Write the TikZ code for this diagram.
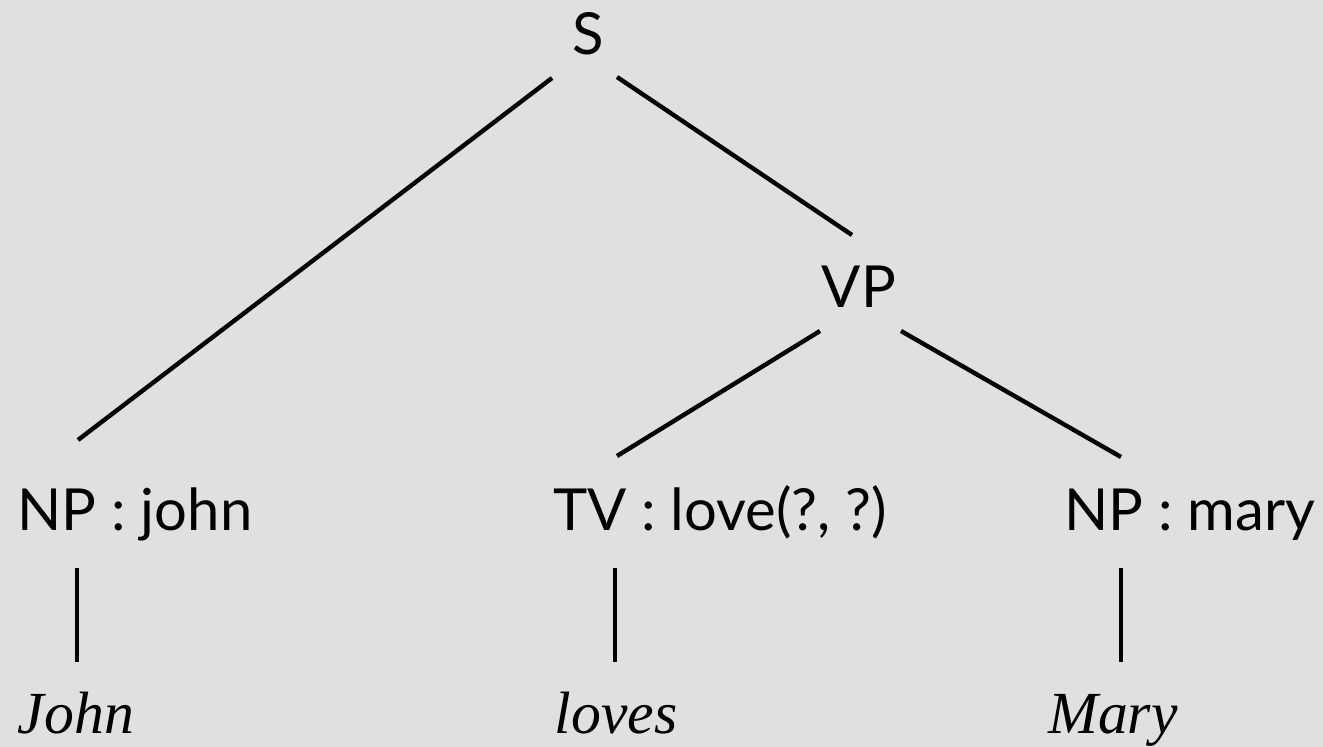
\documentclass[tikz,border=0pt]{standalone}
\usepackage{fontspec}
\setmainfont{Lato}
\newfontfamily\wordfont{Liberation Serif}
\usepackage{tikz}
\definecolor{granite}{RGB}{224,224,224}

\begin{document}
\begin{tikzpicture}[x=0.02cm, y=-0.02cm,
    cat/.style={inner sep=0pt, anchor=base, font=\fontsize{33}{40}\selectfont},
    word/.style={inner sep=0pt, anchor=base, font=\wordfont\itshape\fontsize{34}{40}\selectfont},
    branch/.style={line width=2.5pt}]
    % Background
    \fill[granite] (0,0) rectangle (1323,747);
    \useasboundingbox (0,0) rectangle (1323,747);

    % Categories
    \node[cat] (s) at (588,54) {S};
    \node[cat] (vp) at (859,307) {VP};
    \node[cat] (np1) at (135,530) {NP : john};
    \node[cat] (tv) at (720,530) {TV : love(?, ?)};
    \node[cat] (np2) at (1190,530) {NP : mary};

    % Words
    \node[word] (john) at (76,733) {John};
    \node[word] (loves) at (616,733) {loves};
    \node[word] (mary) at (1113,733) {Mary};

    % Branch ends
    \coordinate (s-l) at (552,78);
    \coordinate (s-r) at (617,77);
    \coordinate (vp-up) at (852,235);
    \coordinate (vp-l) at (820,331);
    \coordinate (vp-r) at (901,331);
    \coordinate (np1-up) at (78,440);
    \coordinate (tv-up) at (617,456);
    \coordinate (np2-up) at (1121,457);
    \coordinate (np1-down) at (77,568);
    \coordinate (tv-down) at (615,568);
    \coordinate (np2-down) at (1121,568);
    \coordinate (john-up) at (77,662);
    \coordinate (loves-up) at (615,662);
    \coordinate (mary-up) at (1121,662);

    % Branches
    \draw[branch] (s-l) -- (np1-up);
    \draw[branch] (s-r) -- (vp-up);
    \draw[branch] (vp-l) -- (tv-up);
    \draw[branch] (vp-r) -- (np2-up);

    % Lexical links
    \draw[branch] (np1-down) -- (john-up);
    \draw[branch] (tv-down) -- (loves-up);
    \draw[branch] (np2-down) -- (mary-up);
\end{tikzpicture}
\end{document}
